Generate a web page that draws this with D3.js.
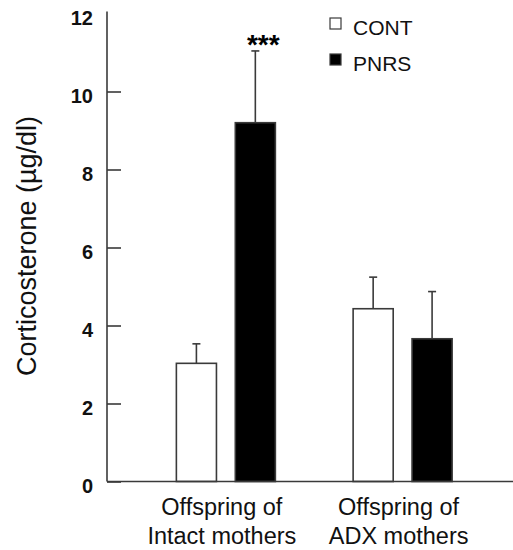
<!DOCTYPE html>
<html>
<head>
<meta charset="utf-8">
<script src="https://cdn.jsdelivr.net/npm/d3@7"></script>
<style>
  body { margin: 0; background: #fff; }
  text { font-family: "Liberation Sans", Arial, Helvetica, sans-serif; }
</style>
</head>
<body>
<div id="chart"></div>
<script>
// data
var groups = ["Intact", "ADX"];
var groupLines = [["Offspring of", "Intact mothers"], ["Offspring of", "ADX mothers"]];
var series = ["CONT", "PNRS"];
var contMean = [3.03, 4.43];
var contErr = [0.50, 0.81];
var pnrsMean = [9.2, 3.66];
var pnrsErr = [1.84, 1.21];
var yTicks = [0, 2, 4, 6, 8, 10, 12];
var signif = ["***", ""];

var width = 513, height = 550;
var axisColor = "#3a3a3a";

var rows = [];
for (var i = 0; i < groups.length; i++) {
    rows.push({group: groups[i], series: "CONT", value: contMean[i], err: contErr[i]});
    rows.push({group: groups[i], series: "PNRS", value: pnrsMean[i], err: pnrsErr[i], star: signif[i]});
}

var svg = d3.select("#chart").append("svg")
    .attr("width", width)
    .attr("height", height);

var y = d3.scaleLinear().domain([0, 12]).range([481.5, 13.5]);

var x0 = d3.scaleBand().domain(groups).range([137.5, 491]).padding(0);
var x1 = d3.scaleBand().domain(series)
    .range([x0.bandwidth() / 2 - 49.5, x0.bandwidth() / 2 + 49.5])
    .paddingInner(0.32);

var axisX = 107;

// y axis, ticks pointing into the plot
var yAxis = d3.axisLeft(y)
    .tickValues(yTicks)
    .tickSizeInner(-14)
    .tickSizeOuter(0)
    .tickPadding(14);

var gy = svg.append("g")
    .attr("transform", "translate(" + axisX + ",0)")
    .call(yAxis);
gy.select(".domain").remove();
gy.selectAll(".tick line")
    .attr("stroke", axisColor)
    .attr("stroke-width", 1.6)
    .filter(function(d) { return d == 12; }).remove();
gy.selectAll(".tick text")
    .attr("dy", "0.55em")
    .style("font-size", "20px")
    .style("font-weight", "bold")
    .attr("fill", "#111");

svg.append("line")
    .attr("x1", axisX).attr("x2", axisX)
    .attr("y1", y(12) - 2).attr("y2", y(0))
    .attr("stroke", axisColor).attr("stroke-width", 1.6);

// bars
var bars = svg.append("g").selectAll("g")
    .data(rows)
    .enter().append("g")
    .attr("transform", function(d) { return "translate(" + (x0(d.group) + x1(d.series)) + ",0)"; });

// error bars (upper only)
bars.append("line")
    .attr("x1", x1.bandwidth() / 2).attr("x2", x1.bandwidth() / 2)
    .attr("y1", function(d) { return y(d.value); })
    .attr("y2", function(d) { return y(d.value + d.err); })
    .attr("stroke", axisColor).attr("stroke-width", 1.6);
bars.append("line")
    .attr("x1", x1.bandwidth() / 2 - 4).attr("x2", x1.bandwidth() / 2 + 4)
    .attr("y1", function(d) { return y(d.value + d.err); })
    .attr("y2", function(d) { return y(d.value + d.err); })
    .attr("stroke", axisColor).attr("stroke-width", 1.6);

bars.append("rect")
    .attr("x", 0)
    .attr("width", x1.bandwidth())
    .attr("y", function(d) { return y(d.value); })
    .attr("height", function(d) { return y(0) - y(d.value); })
    .attr("fill", function(d) { return d.series == "CONT" ? "#fff" : "#000"; })
    .attr("stroke", axisColor)
    .attr("stroke-width", 1.6);

bars.filter(function(d) { return d.star; })
    .append("text")
    .attr("x", x1.bandwidth() / 2 + 8)
    .attr("y", function(d) { return y(d.value + d.err) + 3; })
    .attr("text-anchor", "middle")
    .style("font-size", "28px")
    .style("font-weight", "bold")
    .text(function(d) { return d.star; });

// baseline
svg.append("line")
    .attr("x1", axisX).attr("x2", width)
    .attr("y1", y(0)).attr("y2", y(0))
    .attr("stroke", axisColor).attr("stroke-width", 1.6);

// group labels
var xl = svg.append("g").selectAll("text")
    .data(groups)
    .enter().append("text")
    .attr("x", function(d) { return x0(d) + x0.bandwidth() / 2 - 4; })
    .attr("y", 515)
    .attr("text-anchor", "middle")
    .style("font-size", "23.5px")
    .attr("fill", "#111");
xl.selectAll("tspan")
    .data(function(d, i) { return groupLines[i]; })
    .enter().append("tspan")
    .attr("x", function() { return d3.select(this.parentNode).attr("x"); })
    .attr("dy", function(d, i) { return i ? 29 : 0; })
    .text(function(d) { return d; });

// y label
svg.append("text")
    .attr("transform", "translate(36,246) rotate(-90)")
    .attr("text-anchor", "middle")
    .style("font-size", "27px")
    .attr("fill", "#111")
    .text("Corticosterone (µg/dl)");

// legend
var legend = svg.append("g").selectAll("g")
    .data(series)
    .enter().append("g")
    .attr("transform", function(d, i) { return "translate(330," + (18 + i * 36) + ")"; });
legend.append("rect")
    .attr("width", 11).attr("height", 11)
    .attr("fill", function(d) { return d == "CONT" ? "#fff" : "#000"; })
    .attr("stroke", axisColor).attr("stroke-width", 1.2);
legend.append("text")
    .attr("x", 23).attr("y", 17)
    .style("font-size", "21px")
    .attr("fill", "#111")
    .text(function(d) { return d; });
</script>
</body>
</html>
